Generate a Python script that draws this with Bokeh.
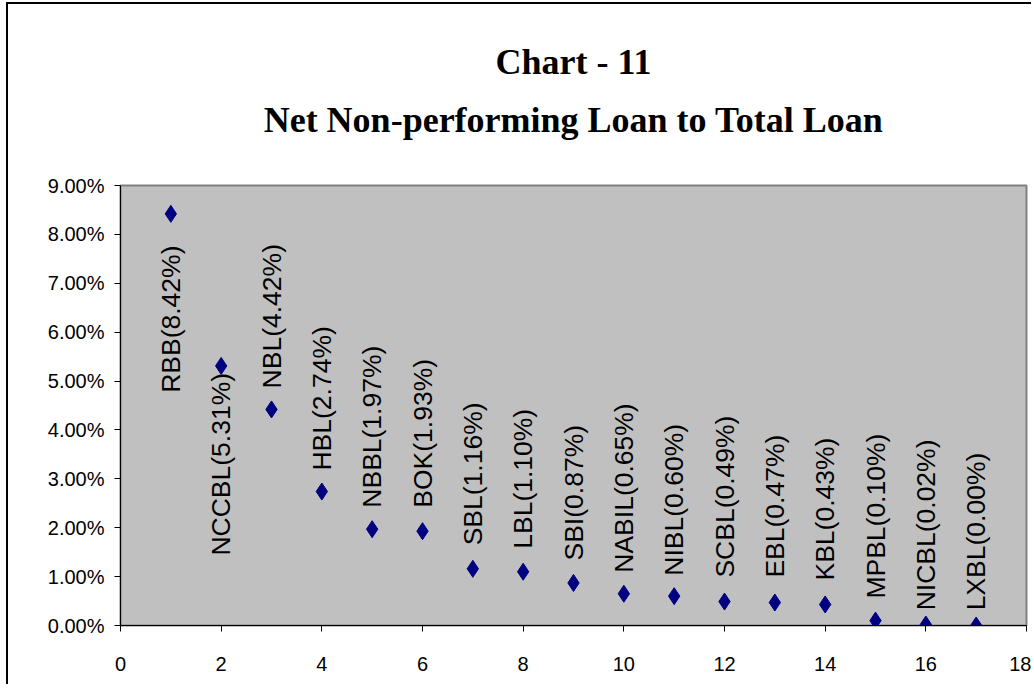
import math
from bokeh.plotting import figure
from bokeh.models import ColumnDataSource, Title, NumeralTickFormatter, FixedTicker, Range1d
from bokeh.embed import file_html
from bokeh.resources import INLINE
from bokeh.core.properties import value

# ---- data ----
banks = ["RBB", "NCCBL", "NBL", "HBL", "NBBL", "BOK", "SBL", "LBL", "SBI",
         "NABIL", "NIBL", "SCBL", "EBL", "KBL", "MPBL", "NICBL", "LXBL"]
rank = list(range(1, 18))
npl_pct = [8.42, 5.31, 4.42, 2.74, 1.97, 1.93, 1.16, 1.10, 0.87,
           0.65, 0.60, 0.49, 0.47, 0.43, 0.10, 0.02, 0.00]
# where each (manually placed) data label starts, in % units
label_start_pct = [4.76, 1.43, 4.85, 3.17, 2.41, 2.41, 1.64, 1.57, 1.33,
                   1.08, 1.02, 0.98, 0.98, 0.92, 0.55, 0.31, 0.31]
x_ticks = [0, 2, 4, 6, 8, 10, 12, 14, 16, 18]
y_ticks_pct = [0, 1, 2, 3, 4, 5, 6, 7, 8, 9]

labels = [f"{b}({v:.2f}%)" for b, v in zip(banks, npl_pct)]
src = ColumnDataSource(dict(
    x=rank,
    y=[v / 100 for v in npl_pct],
    ly=[v / 100 for v in label_start_pct],
    label=labels,
))

p = figure(width=1025, height=682,
           x_range=Range1d(0, 18), y_range=Range1d(0, 0.09),
           output_backend="svg", toolbar_location=None,
           title="Chart - 11",
           min_border_left=112, min_border_right=7,
           min_border_top=181, min_border_bottom=61)

p.styles = {"margin-left": "6px", "margin-top": "2px",
            "border-left": "2px solid black", "border-top": "2px solid black"}

p.title.text_font = "Liberation Serif"
p.title.text_font_style = "bold"
p.title.text_font_size = "36px"
p.title.align = "center"
p.title.text_color = "black"
p.title.standoff = 27

# invisible spacer between the frame and the second title line
p.add_layout(Title(text=" ", text_font_size="1px", standoff=41), "above")
p.add_layout(Title(text="Net Non-performing Loan to Total Loan",
                   text_font="Liberation Serif",
                   text_font_style="bold", text_font_size="36px",
                   align="center", text_color="black", standoff=4), "above")

p.background_fill_color = "#C0C0C0"
p.border_fill_color = "white"
p.outline_line_color = "#808080"
p.outline_line_width = 2
p.xgrid.visible = False
p.ygrid.visible = False

p.xaxis.ticker = FixedTicker(ticks=x_ticks)
p.yaxis.ticker = FixedTicker(ticks=[v / 100 for v in y_ticks_pct])
p.yaxis.formatter = NumeralTickFormatter(format="0.00%")
for ax in (p.xaxis[0], p.yaxis[0]):
    ax.axis_line_color = "black"
    ax.axis_line_width = 1
    ax.major_tick_line_color = "black"
    ax.major_tick_out = 6
    ax.major_tick_in = 0
    ax.minor_tick_line_color = None
    ax.major_label_text_font = "Liberation Sans"
    ax.major_label_text_font_size = "20px"
    ax.major_label_text_color = "black"
p.yaxis.major_label_standoff = 10
p.xaxis.major_label_standoff = 25

p.scatter(x="x", y="y", source=src, marker="diamond", size=17,
          fill_color="#000080", line_color="#000080")

p.text(x="x", y="ly", text="label", source=src, angle=math.pi / 2,
       text_align="left", text_baseline="middle",
       text_font=value("Liberation Sans"), text_font_size="26.5px",
       text_color="black")

open("out.html", "w").write(file_html(p, INLINE))
